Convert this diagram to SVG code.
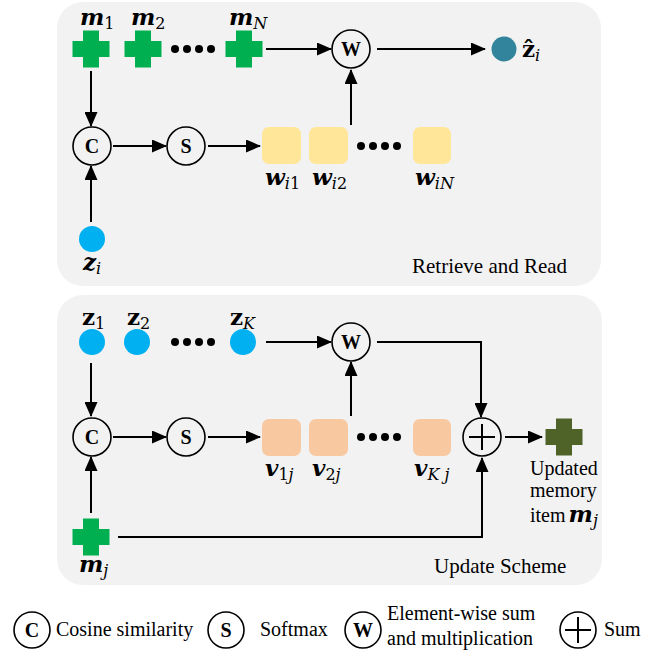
<svg xmlns="http://www.w3.org/2000/svg" width="668" height="654" viewBox="0 0 668 654">
<defs>
<marker id="ah" markerUnits="userSpaceOnUse" markerWidth="15" markerHeight="13" refX="14" refY="6.5" orient="auto">
<path d="M0,0 L15,6.5 L0,13 Z" fill="#000"/>
</marker>
<path id="cross" d="M-8,-18.5 H8 V-8 H18.5 V8 H8 V18.5 H-8 V8 H-18.5 V-8 H-8 Z"/>
</defs>
<style>
.panel{fill:#F2F2F2}
.op{fill:none;stroke:#000;stroke-width:1.6}
.opt{font-family:"Liberation Serif",serif;font-size:20px;font-weight:bold;text-anchor:middle}
.ln{fill:none;stroke:#000;stroke-width:2}
.ar{fill:none;stroke:#000;stroke-width:2;marker-end:url(#ah)}
.g{fill:#00B050}
.dg{fill:#4F6228}
.bl{fill:#00B0F0}
.yb{fill:#FFE699}
.ob{fill:#F8C8A0}
.dot{fill:#000}
.math{font-family:"DejaVu Serif",serif;font-size:23px;font-weight:bold;font-style:italic}
.mup{font-family:"DejaVu Serif",serif;font-size:23px;font-weight:bold}
.sub{font-family:"DejaVu Serif",serif;font-size:16px;font-weight:normal;font-style:italic}
.subn{font-family:"DejaVu Serif",serif;font-size:16px;font-weight:normal;font-style:normal}
.lbl{font-family:"Liberation Serif",serif;font-size:21px;fill:#000}
.lbl2{font-family:"Liberation Serif",serif;font-size:20px;fill:#000}
</style>

<rect class="panel" x="57" y="2" width="544" height="284" rx="26"/>
<rect class="panel" x="57" y="295" width="545" height="290" rx="26"/>

<g id="connectors">
<line class="ar" x1="266" y1="49" x2="331" y2="49"/>
<line class="ar" x1="377" y1="49" x2="485" y2="49"/>
<line class="ar" x1="91" y1="71" x2="91" y2="126"/>
<line class="ar" x1="113" y1="146" x2="166" y2="146"/>
<line class="ar" x1="208" y1="146" x2="260" y2="146"/>
<line class="ar" x1="351" y1="125" x2="351" y2="70"/>
<line class="ar" x1="91" y1="222" x2="91" y2="166"/>

<line class="ar" x1="266" y1="342" x2="331" y2="342"/>
<line class="ar" x1="91" y1="363" x2="91" y2="416"/>
<line class="ar" x1="113" y1="437" x2="166" y2="437"/>
<line class="ar" x1="208" y1="437" x2="260" y2="437"/>
<line class="ar" x1="351" y1="416" x2="351" y2="362"/>
<path class="ar" d="M377,342 H481 V417"/>
<line class="ar" x1="505" y1="437" x2="542" y2="437"/>
<line class="ar" x1="91" y1="513" x2="91" y2="457"/>
<path class="ar" d="M118,537 H482 V458"/>
</g>

<g id="m1"><use href="#cross" class="g" x="91" y="49"/>
<text class="math" x="80" y="25">m<tspan class="subn" dy="4">1</tspan></text></g>
<g id="m2"><use href="#cross" class="g" x="143" y="49"/>
<text class="math" x="131" y="25">m<tspan class="subn" dy="4">2</tspan></text></g>
<g id="dots1"><circle class="dot" cx="175" cy="49" r="4"/><circle class="dot" cx="187" cy="49" r="4"/><circle class="dot" cx="199" cy="49" r="4"/><circle class="dot" cx="211" cy="49" r="4"/></g>
<g id="mN"><use href="#cross" class="g" x="244" y="49"/>
<text class="math" x="229" y="25">m<tspan class="sub" dy="4">N</tspan></text></g>
<g id="W1"><circle class="op" cx="351" cy="49" r="19"/><text class="opt" x="351" y="56" font-weight="normal">W</text></g>
<g id="zhat"><circle cx="504" cy="49" r="12.5" fill="#31849B"/>
<text class="mup" x="522" y="57">ẑ<tspan class="sub" dy="4">i</tspan></text></g>
<g id="C1"><circle class="op" cx="92" cy="146" r="19"/><text class="opt" x="92" y="153">C</text></g>
<g id="S1"><circle class="op" cx="186" cy="146" r="19"/><text class="opt" x="186" y="153">S</text></g>
<g id="w1"><rect class="yb" x="262" y="127" width="39" height="37" rx="7"/>
<text class="math" x="265" y="185">w<tspan class="sub" dy="4">i</tspan><tspan class="subn">1</tspan></text></g>
<g id="w2"><rect class="yb" x="309" y="127" width="39" height="37" rx="7"/>
<text class="math" x="312" y="185">w<tspan class="sub" dy="4">i</tspan><tspan class="subn">2</tspan></text></g>
<g id="dots2"><circle class="dot" cx="361" cy="146" r="4"/><circle class="dot" cx="373" cy="146" r="4"/><circle class="dot" cx="385" cy="146" r="4"/><circle class="dot" cx="397" cy="146" r="4"/></g>
<g id="wN"><rect class="yb" x="413" y="127" width="38" height="37" rx="7"/>
<text class="math" x="415" y="185">w<tspan class="sub" dy="4">iN</tspan></text></g>
<g id="zi"><circle class="bl" cx="92" cy="239" r="13"/>
<text class="math" x="83" y="270">z<tspan class="sub" dy="4">i</tspan></text></g>
<text class="lbl" x="412" y="273">Retrieve and Read</text>

<g id="z1"><circle class="bl" cx="92" cy="342" r="13"/>
<text class="mup" x="82" y="325">z<tspan class="subn" dy="4">1</tspan></text></g>
<g id="z2"><circle class="bl" cx="137" cy="342" r="13"/>
<text class="mup" x="127" y="325">z<tspan class="subn" dy="4">2</tspan></text></g>
<g id="dots3"><circle class="dot" cx="175" cy="342" r="4"/><circle class="dot" cx="187" cy="342" r="4"/><circle class="dot" cx="199" cy="342" r="4"/><circle class="dot" cx="211" cy="342" r="4"/></g>
<g id="zK"><circle class="bl" cx="243" cy="342" r="13"/>
<text class="mup" x="230" y="325">z<tspan class="sub" dy="4">K</tspan></text></g>
<g id="W2"><circle class="op" cx="351" cy="342" r="19"/><text class="opt" x="351" y="349" font-weight="normal">W</text></g>
<g id="C2"><circle class="op" cx="92" cy="437" r="19"/><text class="opt" x="92" y="444">C</text></g>
<g id="S2"><circle class="op" cx="186" cy="437" r="19"/><text class="opt" x="186" y="444">S</text></g>
<g id="v1"><rect class="ob" x="262" y="419" width="39" height="37" rx="7"/>
<text class="math" x="265" y="476">v<tspan class="subn" dy="4">1</tspan><tspan class="sub">j</tspan></text></g>
<g id="v2"><rect class="ob" x="309" y="419" width="39" height="37" rx="7"/>
<text class="math" x="312" y="476">v<tspan class="subn" dy="4">2</tspan><tspan class="sub">j</tspan></text></g>
<g id="dots4"><circle class="dot" cx="361" cy="437" r="4"/><circle class="dot" cx="373" cy="437" r="4"/><circle class="dot" cx="385" cy="437" r="4"/><circle class="dot" cx="397" cy="437" r="4"/></g>
<g id="vK"><rect class="ob" x="413" y="419" width="38" height="37" rx="7"/>
<text class="math" x="414" y="476">v<tspan class="sub" dy="4">K j</tspan></text></g>
<g id="sum"><circle class="op" cx="482" cy="437" r="19"/><path d="M482,424 V450 M469,437 H495" stroke="#000" stroke-width="2"/></g>
<g id="mout"><use href="#cross" class="dg" x="564" y="437"/>
<text class="lbl2" x="530" y="475">Updated</text>
<text class="lbl2" x="530" y="497">memory</text>
<text class="lbl2" x="530" y="522">item<tspan class="math" dx="3" font-size="21px">m</tspan><tspan class="sub" dy="4">j</tspan></text></g>
<g id="mj"><use href="#cross" class="g" x="91" y="537"/>
<text class="math" x="79" y="572">m<tspan class="sub" dy="4">j</tspan></text></g>
<text class="lbl" x="434" y="573">Update Scheme</text>

<g id="legend">
<circle class="op" cx="32" cy="630" r="18"/><text class="opt" x="32" y="637">C</text>
<text class="lbl2" x="56" y="636">Cosine similarity</text>
<circle class="op" cx="226" cy="630" r="18"/><text class="opt" x="226" y="637">S</text>
<text class="lbl2" x="260" y="636">Softmax</text>
<circle class="op" cx="363" cy="630" r="18"/><text class="opt" x="363" y="637" font-weight="normal">W</text>
<text class="lbl2" x="387" y="620">Element-wise sum</text>
<text class="lbl2" x="387" y="645">and multiplication</text>
<circle class="op" cx="578" cy="630" r="18"/><path d="M578,617 V643 M565,630 H591" stroke="#000" stroke-width="2"/>
<text class="lbl2" x="604" y="636">Sum</text>
</g>
</svg>
